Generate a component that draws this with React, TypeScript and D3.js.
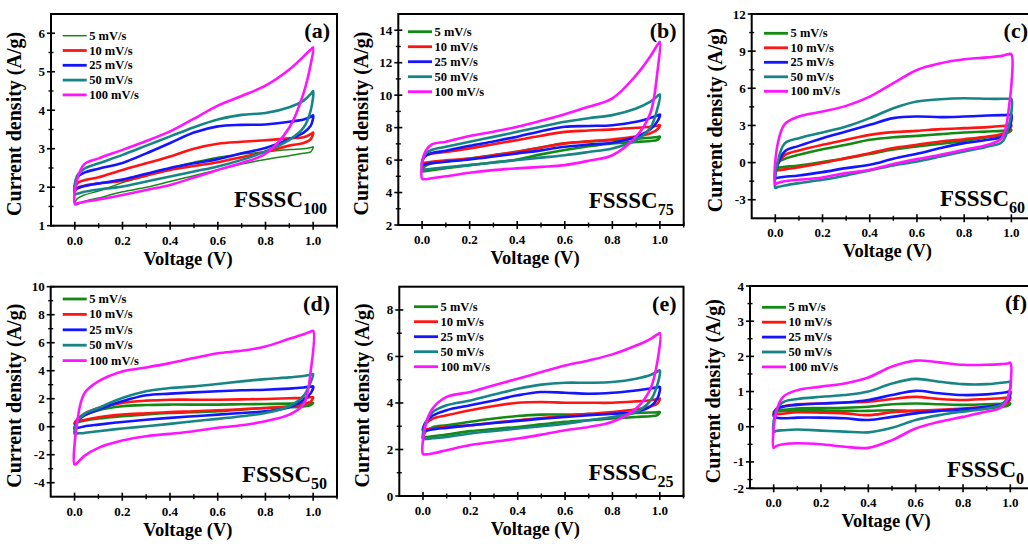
import React from "react";
import * as d3 from "d3";

// shared voltage grid (V) for every sweep
const VOLTAGE = [0, 0.01, 0.04, 0.1, 0.2, 0.3, 0.4, 0.5, 0.6, 0.7, 0.8, 0.9, 0.96, 0.99, 1.0];
const SCAN_RATES = ["5 mV/s", "10 mV/s", "25 mV/s", "50 mV/s", "100 mV/s"];
const COLORS = ["#138a13", "#ff1414", "#1414ff", "#178585", "#ff14ff"];
const X_TICKS = [0, 0.2, 0.4, 0.6, 0.8, 1.0];

// (a) FSSSC100 — anodic (up) and cathodic (down) branches, A/g
const A_UP = [
  [1.55, 1.7, 1.8, 1.9, 2.12, 2.3, 2.5, 2.65, 2.78, 2.86, 2.92, 2.98, 3.0, 3.03, 3.05],
  [1.9, 2.1, 2.18, 2.26, 2.45, 2.62, 2.8, 3.0, 3.13, 3.18, 3.22, 3.27, 3.3, 3.38, 3.42],
  [1.95, 2.25, 2.38, 2.48, 2.63, 2.88, 3.15, 3.42, 3.58, 3.62, 3.63, 3.7, 3.76, 3.83, 3.87],
  [1.82, 2.3, 2.48, 2.62, 2.84, 3.08, 3.32, 3.56, 3.76, 3.88, 3.93, 4.08, 4.25, 4.42, 4.5],
  [1.57, 2.2, 2.6, 2.75, 2.97, 3.2, 3.45, 3.78, 4.12, 4.37, 4.64, 5.06, 5.4, 5.58, 5.63],
];
const A_DOWN = [
  [1.52, 1.55, 1.63, 1.72, 1.88, 2.0, 2.15, 2.3, 2.45, 2.6, 2.72, 2.82, 2.88, 2.92, 3.05],
  [1.9, 1.98, 2.04, 2.1, 2.16, 2.3, 2.45, 2.55, 2.65, 2.78, 2.92, 3.08, 3.15, 3.25, 3.42],
  [1.95, 1.97, 2.03, 2.1, 2.2, 2.35, 2.5, 2.62, 2.73, 2.88, 3.02, 3.25, 3.42, 3.6, 3.87],
  [1.8, 1.83, 1.88, 1.94, 2.02, 2.15, 2.28, 2.41, 2.54, 2.71, 2.93, 3.23, 3.55, 4.0, 4.5],
  [1.57, 1.58, 1.62, 1.68, 1.8, 1.93, 2.06, 2.25, 2.45, 2.63, 2.87, 3.55, 4.45, 5.2, 5.63],
];

// (b) FSSSC75
const B_UP = [
  [5.3, 5.6, 5.8, 5.92, 6.1, 6.3, 6.51, 6.78, 7.03, 7.15, 7.23, 7.32, 7.38, 7.42, 7.44],
  [5.8, 6.25, 6.4, 6.5, 6.72, 6.98, 7.23, 7.5, 7.74, 7.82, 7.89, 7.99, 8.05, 8.12, 8.15],
  [5.7, 6.2, 6.42, 6.58, 6.88, 7.15, 7.44, 7.78, 8.05, 8.1, 8.15, 8.36, 8.6, 8.75, 8.81],
  [5.4, 6.3, 6.62, 6.82, 7.13, 7.43, 7.74, 8.05, 8.36, 8.58, 8.77, 9.18, 9.6, 9.95, 10.04],
  [4.85, 6.4, 6.95, 7.13, 7.48, 7.75, 8.05, 8.42, 8.83, 9.28, 9.8, 11.23, 12.4, 13.1, 13.28],
];
const B_DOWN = [
  [5.3, 5.32, 5.38, 5.5, 5.69, 5.85, 6.04, 6.35, 6.62, 6.85, 7.03, 7.12, 7.18, 7.25, 7.44],
  [5.8, 5.83, 5.9, 5.98, 6.1, 6.3, 6.51, 6.78, 7.03, 7.15, 7.27, 7.45, 7.65, 7.9, 8.15],
  [5.7, 5.74, 5.8, 5.9, 6.04, 6.22, 6.41, 6.6, 6.82, 6.95, 7.07, 7.44, 7.9, 8.4, 8.81],
  [5.4, 5.42, 5.47, 5.55, 5.69, 5.85, 6.0, 6.15, 6.3, 6.5, 6.72, 7.23, 8.0, 9.2, 10.04],
  [4.8, 4.82, 4.88, 5.0, 5.22, 5.38, 5.49, 5.58, 5.69, 5.96, 6.3, 7.44, 8.9, 11.5, 13.28],
];

// (c) FSSSC60
const C_UP = [
  [-0.45, 0.0, 0.3, 0.63, 1.08, 1.44, 1.84, 2.05, 2.16, 2.3, 2.43, 2.51, 2.56, 2.6, 2.62],
  [-0.65, -0.1, 0.6, 0.98, 1.44, 1.84, 2.24, 2.46, 2.56, 2.7, 2.78, 2.86, 2.95, 3.02, 3.05],
  [-1.25, -0.2, 0.9, 1.35, 1.97, 2.51, 3.05, 3.59, 3.72, 3.67, 3.72, 3.8, 3.83, 3.85, 3.88],
  [-2.05, 0.0, 1.55, 1.97, 2.43, 2.91, 3.59, 4.39, 4.93, 5.12, 5.2, 5.15, 5.15, 5.15, 5.15],
  [-1.75, 1.5, 3.1, 3.72, 4.12, 4.58, 5.33, 6.41, 7.48, 8.02, 8.34, 8.5, 8.62, 8.77, 8.75],
];
const C_DOWN = [
  [-0.45, -0.42, -0.35, -0.23, 0.05, 0.35, 0.7, 1.05, 1.3, 1.52, 1.75, 2.05, 2.25, 2.45, 2.62],
  [-0.65, -0.62, -0.55, -0.37, -0.04, 0.36, 0.76, 1.17, 1.44, 1.7, 1.89, 2.1, 2.3, 2.6, 3.05],
  [-1.25, -1.22, -1.15, -1.04, -0.77, -0.45, -0.18, 0.31, 0.71, 1.17, 1.57, 1.84, 2.1, 2.7, 3.88],
  [-2.05, -1.98, -1.85, -1.66, -1.39, -1.04, -0.63, -0.23, 0.09, 0.49, 0.9, 1.3, 1.65, 3.0, 5.15],
  [-1.75, -1.65, -1.5, -1.39, -1.2, -0.85, -0.58, -0.12, 0.28, 0.63, 1.03, 1.44, 2.0, 4.5, 8.75],
];

// (d) FSSSC50
const D_UP = [
  [0.2, 0.45, 0.8, 1.17, 1.46, 1.55, 1.58, 1.58, 1.58, 1.6, 1.62, 1.65, 1.68, 1.7, 1.7],
  [0.25, 0.5, 0.92, 1.34, 1.7, 1.86, 1.93, 1.93, 1.93, 1.95, 1.98, 2.03, 2.06, 2.1, 2.1],
  [-0.15, 0.3, 0.8, 1.22, 1.81, 2.24, 2.36, 2.45, 2.53, 2.6, 2.64, 2.72, 2.8, 2.86, 2.88],
  [-0.5, 0.3, 0.9, 1.34, 2.05, 2.53, 2.76, 2.88, 3.05, 3.24, 3.4, 3.52, 3.62, 3.72, 3.76],
  [-2.7, 0.2, 2.35, 3.24, 3.95, 4.23, 4.54, 4.9, 5.25, 5.42, 5.73, 6.28, 6.6, 6.8, 6.85],
];
const D_DOWN = [
  [0.2, 0.3, 0.42, 0.58, 0.75, 0.88, 0.98, 1.04, 1.1, 1.22, 1.34, 1.39, 1.45, 1.55, 1.7],
  [0.25, 0.35, 0.48, 0.67, 0.86, 0.96, 1.05, 1.1, 1.17, 1.25, 1.34, 1.46, 1.6, 1.8, 2.1],
  [-0.15, -0.1, 0.02, 0.15, 0.34, 0.5, 0.63, 0.75, 0.86, 0.98, 1.1, 1.39, 1.9, 2.4, 2.88],
  [-0.5, -0.48, -0.45, -0.32, -0.13, 0.03, 0.2, 0.39, 0.56, 0.75, 0.98, 1.46, 2.2, 3.2, 3.76],
  [-2.7, -2.6, -2.1, -1.51, -0.99, -0.68, -0.51, -0.32, -0.08, 0.1, 0.39, 0.86, 1.6, 4.0, 6.85],
];

// (e) FSSSC25
const E_UP = [
  [2.5, 2.75, 2.95, 3.04, 3.19, 3.33, 3.44, 3.5, 3.5, 3.52, 3.54, 3.57, 3.59, 3.6, 3.61],
  [2.85, 3.1, 3.32, 3.47, 3.69, 3.87, 4.01, 4.04, 4.01, 4.01, 4.01, 4.07, 4.12, 4.17, 4.19],
  [2.8, 3.15, 3.45, 3.69, 3.9, 4.11, 4.33, 4.47, 4.44, 4.4, 4.44, 4.54, 4.62, 4.67, 4.69],
  [2.45, 3.1, 3.6, 3.9, 4.11, 4.36, 4.61, 4.79, 4.87, 4.87, 4.9, 5.04, 5.2, 5.35, 5.4],
  [1.8, 3.0, 3.75, 4.26, 4.47, 4.76, 5.04, 5.33, 5.61, 5.83, 6.09, 6.47, 6.75, 6.95, 7.01],
];
const E_DOWN = [
  [2.5, 2.52, 2.57, 2.64, 2.79, 2.88, 2.97, 3.08, 3.19, 3.26, 3.33, 3.4, 3.43, 3.48, 3.61],
  [2.85, 2.86, 2.9, 2.97, 3.04, 3.15, 3.26, 3.35, 3.44, 3.53, 3.61, 3.73, 3.85, 3.98, 4.19],
  [2.8, 2.81, 2.86, 2.93, 3.04, 3.14, 3.23, 3.32, 3.4, 3.47, 3.54, 3.61, 3.85, 4.2, 4.69],
  [2.45, 2.45, 2.48, 2.54, 2.69, 2.8, 2.9, 3.0, 3.11, 3.26, 3.4, 3.61, 4.1, 4.8, 5.4],
  [1.78, 1.79, 1.83, 1.97, 2.19, 2.33, 2.47, 2.64, 2.83, 2.97, 3.19, 3.76, 4.6, 5.8, 7.01],
];

// (f) FSSSC0
const F_UP = [
  [0.42, 0.45, 0.48, 0.52, 0.53, 0.54, 0.57, 0.64, 0.66, 0.64, 0.62, 0.64, 0.65, 0.66, 0.66],
  [0.35, 0.5, 0.58, 0.64, 0.66, 0.69, 0.71, 0.79, 0.85, 0.79, 0.76, 0.79, 0.81, 0.83, 0.83],
  [0.3, 0.48, 0.57, 0.62, 0.66, 0.69, 0.76, 0.9, 1.02, 0.95, 0.9, 0.92, 0.96, 0.99, 1.0],
  [-0.15, 0.45, 0.7, 0.79, 0.85, 0.9, 1.0, 1.23, 1.36, 1.28, 1.21, 1.21, 1.25, 1.27, 1.28],
  [-0.6, 0.4, 0.85, 1.04, 1.14, 1.23, 1.4, 1.71, 1.88, 1.83, 1.76, 1.76, 1.78, 1.8, 1.82],
];
const F_DOWN = [
  [0.42, 0.43, 0.45, 0.45, 0.45, 0.45, 0.45, 0.47, 0.45, 0.46, 0.47, 0.52, 0.56, 0.6, 0.66],
  [0.35, 0.35, 0.37, 0.41, 0.4, 0.38, 0.33, 0.41, 0.45, 0.48, 0.52, 0.57, 0.62, 0.7, 0.83],
  [0.3, 0.26, 0.24, 0.26, 0.26, 0.24, 0.19, 0.28, 0.38, 0.45, 0.5, 0.57, 0.63, 0.75, 1.0],
  [-0.15, -0.12, -0.1, -0.08, -0.11, -0.14, -0.16, -0.03, 0.19, 0.33, 0.43, 0.52, 0.62, 0.85, 1.28],
  [-0.6, -0.55, -0.5, -0.47, -0.5, -0.57, -0.6, -0.38, -0.05, 0.14, 0.28, 0.43, 0.54, 0.8, 1.82],
];

const A_Y_TICKS = [1, 2, 3, 4, 5, 6];
const B_Y_TICKS = [2, 4, 6, 8, 10, 12, 14];
const C_Y_TICKS = [-3, 0, 3, 6, 9, 12];
const D_Y_TICKS = [-4, -2, 0, 2, 4, 6, 8, 10];
const E_Y_TICKS = [0, 2, 4, 6, 8];
const F_Y_TICKS = [-2, -1, 0, 1, 2, 3, 4];

// layout of each panel (pixels)
const PANELS = [
  { tag: "(a)", sub: "100", up: A_UP, down: A_DOWN, yDomain: [1, 6.5], yTicks: A_Y_TICKS, yStep: 1,
    box: [51, 337, 14, 225.7], legend: [11.7, 21.7, 14.8], nameDy: -19, thinFirst: true },
  { tag: "(b)", sub: "75", up: B_UP, down: B_DOWN, yDomain: [2, 15], yTicks: B_Y_TICKS, yStep: 2,
    box: [398.3, 683.7, 14, 225], legend: [9.7, 17.7, 15], nameDy: -17 },
  { tag: "(c)", sub: "60", up: C_UP, down: C_DOWN, yDomain: [-4.5, 12], yTicks: C_Y_TICKS, yStep: 3,
    box: [751.7, 1035, 14, 218.3], legend: [12.3, 19.3, 14.5], nameDy: -12 },
  { tag: "(d)", sub: "50", up: D_UP, down: D_DOWN, yDomain: [-5, 10], yTicks: D_Y_TICKS, yStep: 2,
    box: [50.7, 337, 286.7, 496.7], legend: [12, 12.3, 15.4], nameDy: -15 },
  { tag: "(e)", sub: "25", up: E_UP, down: E_DOWN, yDomain: [0, 9], yTicks: E_Y_TICKS, yStep: 2,
    box: [399.3, 683.5, 286.7, 496], legend: [14.7, 20, 15], nameDy: -16 },
  { tag: "(f)", sub: "0", up: F_UP, down: F_DOWN, yDomain: [-1.75, 4], yTicks: F_Y_TICKS, yStep: 1,
    box: [750, 1034, 286, 488.3], legend: [12, 21.3, 14.9], nameDy: -11 },
];

const FONT = "'Liberation Serif', 'Times New Roman', serif";

function Panel({ p }: { p: any }) {
  const [left, right, top, bottom] = p.box;
  const x = d3.scaleLinear().domain([-0.1, 1.1]).range([left, right]);
  const y = d3.scaleLinear().domain(p.yDomain).range([bottom, top]).clamp(true);

  const loop = d3
    .line<[number, number]>()
    .x((d) => x(d[0]))
    .y((d) => y(d[1]))
    .curve(d3.curveCatmullRomClosed.alpha(0.5));

  const xMinor = d3.range(-0.1, 1.1, 0.2).filter((v) => v > -0.05);
  const yMinor = d3
    .range(p.yTicks[0] - p.yStep / 2, p.yDomain[1], p.yStep)
    .filter((v) => v > p.yDomain[0] + 0.01 && v < p.yDomain[1] - 0.01);
  const fmtX = d3.format(".1f");

  return (
    <g>
      {p.up.map((up: number[], i: number) => {
        const pts: [number, number][] = [];
        VOLTAGE.forEach((v, k) => pts.push([v, up[k]]));
        for (let k = VOLTAGE.length - 2; k >= 1; k--) pts.push([VOLTAGE[k], p.down[i][k]]);
        return (
          <path
            key={i}
            d={loop(pts) || ""}
            fill="none"
            stroke={COLORS[i]}
            strokeWidth={p.thinFirst && i === 0 ? 1.5 : 2.6}
            strokeLinejoin="round"
          />
        );
      })}

      <rect x={left} y={top} width={right - left} height={bottom - top} fill="none" stroke="#000" strokeWidth={2} />

      {X_TICKS.map((t) => (
        <g key={"xt" + t}>
          <line x1={x(t)} x2={x(t)} y1={bottom - 4} y2={bottom + 4} stroke="#000" strokeWidth={1.6} />
          <text x={x(t)} y={bottom + 19} textAnchor="middle" fontSize={13} fontWeight="bold" fontFamily={FONT}>
            {fmtX(t)}
          </text>
        </g>
      ))}
      {xMinor.map((t) => (
        <line key={"xm" + t} x1={x(t)} x2={x(t)} y1={bottom - 2.5} y2={bottom + 2.5} stroke="#000" strokeWidth={1.4} />
      ))}
      {p.yTicks.map((t: number) => (
        <g key={"yt" + t}>
          <line x1={left - 4} x2={left + 4} y1={y(t)} y2={y(t)} stroke="#000" strokeWidth={1.6} />
          <text x={left - 6} y={y(t) + 4.5} textAnchor="end" fontSize={13} fontWeight="bold" fontFamily={FONT}>
            {t}
          </text>
        </g>
      ))}
      {yMinor.map((t: number) => (
        <line key={"ym" + t} x1={left - 2.5} x2={left + 2.5} y1={y(t)} y2={y(t)} stroke="#000" strokeWidth={1.4} />
      ))}

      <text x={(left + right) / 2 - 6} y={bottom + 39} textAnchor="middle" fontSize={18.5} fontWeight="bold" fontFamily={FONT}>
        Voltage (V)
      </text>
      <text
        transform={`translate(${left - 30}, ${(top + bottom) / 2 + 4}) rotate(-90)`}
        textAnchor="middle"
        fontSize={20}
        fontWeight="bold"
        fontFamily={FONT}
      >
        Current density (A/g)
      </text>

      <text x={right - 7} y={top + 24} textAnchor="end" fontSize={22} fontWeight="bold" fontFamily={FONT}>
        {p.tag}
      </text>
      <text x={right - 10} y={bottom + p.nameDy} textAnchor="end" fontSize={23} fontWeight="bold" fontFamily={FONT}>
        FSSSC
        <tspan fontSize={16} dy={7}>
          {p.sub}
        </tspan>
      </text>

      {SCAN_RATES.map((s, i) => {
        const ly = top + p.legend[1] + i * p.legend[2];
        const lx = left + p.legend[0];
        return (
          <g key={s}>
            <line x1={lx} x2={lx + 24} y1={ly} y2={ly} stroke={COLORS[i]} strokeWidth={p.thinFirst && i === 0 ? 1.5 : 2.8} />
            <text x={lx + 26.5} y={ly + 4} fontSize={12.5} fontWeight="bold" fontFamily={FONT}>
              {s}
            </text>
          </g>
        );
      })}
    </g>
  );
}

export default function App() {
  return (
    <svg
      width={1028}
      height={544}
      style={{ position: "absolute", left: 0, top: 0, background: "#fff" }}
    >
      <rect width={1028} height={544} fill="#fff" />
      {PANELS.map((p) => (
        <Panel key={p.tag} p={p} />
      ))}
    </svg>
  );
}
